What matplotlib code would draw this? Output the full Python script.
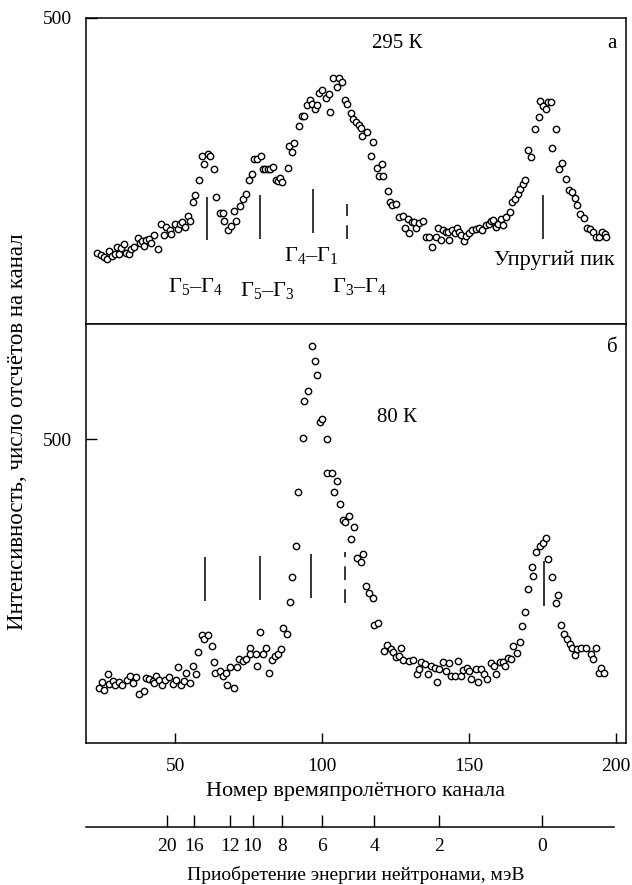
import numpy as np
import matplotlib
matplotlib.use('Agg')
from matplotlib import pyplot as plt

plt.rcParams['font.family'] = ['Liberation Serif', 'DejaVu Serif']
plt.rcParams['mathtext.fontset'] = 'custom'
plt.rcParams['mathtext.rm'] = 'Liberation Serif'
plt.rcParams['mathtext.it'] = 'Liberation Serif:italic'

# 295 K spectrum: channel number / counts per channel
top_channel = [23.5, 24.7, 25.6, 26.7, 27.6, 28.5, 29.4, 30.1, 31.0, 31.5,
               32.4, 33.3, 34.2, 35.1, 35.8, 37.2, 38.1, 38.7, 39.2, 40.1,
               41.0, 41.9, 42.8, 44.0, 45.3, 46.0, 46.9, 48.1, 48.7, 49.9,
               51.0, 51.7, 52.4, 53.3, 54.2, 55.1, 56.0, 56.7, 58.1, 59.0,
               59.9, 61.0, 61.9, 63.1, 64.0, 65.1, 66.2, 66.7, 67.8, 69.0,
               69.9, 70.6, 71.9, 73.1, 74.0, 75.1, 76.0, 76.9, 77.8, 79.2,
               79.7, 80.6, 81.5, 82.4, 83.1, 84.2, 85.1, 85.8, 86.5, 88.3,
               88.7, 89.9, 90.3, 92.2, 93.1, 93.8, 94.7, 95.8, 96.7, 97.6,
               98.1, 99.0, 99.9, 101.2, 102.2, 102.8, 103.7, 104.9, 105.8, 106.9,
               107.8, 108.5, 109.9, 110.6, 111.5, 112.6, 113.3, 113.7, 115.1, 116.5,
               117.2, 118.5, 119.4, 120.4, 120.6,
               122.4, 123.1, 123.8, 125.1, 126.0, 127.6, 128.3, 129.2, 129.7, 130.5,
               131.3, 132.0, 132.9, 134.2, 135.3, 136.3, 137.4, 138.8, 139.4, 140.4,
               141.0, 142.0, 142.9, 143.3, 144.2, 145.1, 145.8, 146.7, 147.4, 148.3,
               149.0, 149.9, 151.0, 152.4, 153.5, 154.4, 155.6, 156.7, 157.4, 158.3,
               159.2, 159.9, 160.8, 161.7, 162.6, 163.8, 164.7, 165.6, 166.5, 167.4,
               168.3, 169.2, 170.1, 171.0, 172.6, 173.8, 174.2, 175.1, 176.3, 177.0,
               177.9, 178.3, 179.7, 180.6, 181.5, 183.1, 184.0, 184.9, 186.0, 186.7,
               187.9, 189.0, 190.1, 191.3, 192.2, 193.3, 194.4, 195.4, 196.3, 196.7]
top_counts = [116, 112, 110, 106, 120, 111, 115, 126, 115, 124,
              130, 116, 115, 122, 126, 140, 133, 135, 127, 138,
              139, 133, 146, 122, 163, 146, 159, 154, 147, 164,
              156, 164, 166, 159, 176, 168, 200, 211, 236, 274,
              261, 278, 274, 253, 207, 182, 181, 169, 154, 160,
              185, 168, 193, 204, 212, 235, 245, 270, 270, 274,
              253, 253, 254, 254, 256, 235, 234, 238, 232, 255,
              291, 281, 296, 323, 340, 340, 358, 366, 360, 352,
              357, 378, 383, 369, 376, 347, 402, 388, 402, 396,
              366, 360, 345, 335, 330, 325, 321, 307, 313, 274,
              297, 255, 242, 261, 242,
              218, 200, 195, 196, 175, 176, 157, 172, 149, 166,
              166, 157, 165, 169, 142, 142, 126, 142, 157, 138,
              153, 150, 151, 137, 154, 148, 157, 150, 145, 136,
              143, 148, 153, 155, 157, 153, 162, 163, 168, 170,
              159, 163, 172, 161, 175, 183, 199, 205, 212, 221,
              229, 236, 284, 273, 319, 338, 364, 356, 352, 363,
              363, 287, 319, 254, 263, 237, 219, 215, 206, 194,
              179, 173, 157, 156, 151, 142, 142, 151, 147, 142]

# 80 K spectrum
bot_channel = [23.9, 24.9, 25.6, 27.2, 27.6, 28.8, 29.4, 30.8, 31.9, 33.5,
               34.7, 35.6, 36.7, 37.8, 39.2, 39.9, 41.0, 42.4, 43.3, 42.9,
               44.4, 45.6, 46.5, 47.8, 49.2, 50.1, 50.8, 51.9, 53.1, 53.7,
               55.1, 56.0, 57.2, 57.8, 59.0, 59.9, 61.2, 62.4, 63.1, 63.5,
               65.1, 66.2, 67.2, 67.6, 68.7, 69.9, 71.0, 71.7, 73.1, 74.2,
               75.3, 75.6, 77.6, 77.8, 79.0, 79.9, 81.0, 81.9, 82.8, 84.0,
               85.1, 86.0, 86.7, 88.1, 89.0, 89.9, 91.2, 91.9, 93.5, 93.7,
               95.1, 96.5, 97.4, 98.1, 99.2, 99.9, 101.5, 101.7, 103.3, 104.0,
               104.9, 106.0, 107.2, 107.8, 109.2, 109.9, 110.8, 111.9, 113.1, 114.0,
               114.9, 116.0, 117.2, 117.6, 119.0,
               121.0, 122.2, 123.3, 124.2, 125.1, 126.0, 127.0, 127.6, 129.4, 131.0,
               132.2, 132.8, 133.8, 134.9, 136.0, 136.9, 138.3, 139.0, 139.9, 141.0,
               142.2, 143.3, 144.0, 145.1, 146.3, 147.2, 148.1, 149.2, 150.1, 150.8,
               152.2, 153.1, 154.0, 155.1, 156.0, 157.4, 158.5, 159.2, 160.6, 161.5,
               162.4, 163.1, 164.2, 165.1, 166.3, 167.2, 168.1, 169.0, 170.1, 171.5,
               171.7, 172.8, 174.0, 175.1, 176.3, 176.9, 178.3, 179.7, 180.3, 181.3,
               182.4, 183.3, 184.2, 185.1, 186.0, 186.7, 188.1, 189.9, 191.5, 192.2,
               193.3, 194.2, 194.9, 196.0]
bot_counts = [91, 100, 88, 114, 97, 102, 96, 101, 95, 103,
              110, 99, 109, 81, 86, 107, 105, 102, 111, 98,
              104, 95, 104, 108, 97, 104, 125, 96, 102, 115,
              99, 126, 114, 150, 178, 171, 178, 160, 134, 115,
              119, 111, 115, 96, 125, 91, 125, 139, 135, 138,
              156, 147, 147, 127, 183, 147, 157, 115, 136, 143,
              147, 155, 189, 180, 232, 273, 324, 414, 503, 564,
              579, 653, 629, 606, 529, 534, 501, 444, 444, 413,
              432, 394, 367, 364, 373, 336, 355, 305, 298, 311,
              259, 247, 238, 194, 198,
              152, 162, 155, 149, 142, 143, 156, 136, 135, 137,
              114, 122, 134, 130, 113, 127, 123, 100, 121, 134,
              118, 131, 111, 111, 135, 111, 120, 124, 118, 105,
              121, 101, 122, 114, 105, 132, 126, 113, 134, 134,
              127, 140, 138, 160, 148, 167, 193, 215, 254, 289,
              275, 314, 324, 330, 337, 303, 274, 231, 244, 195,
              179, 171, 163, 156, 145, 154, 157, 156, 147, 138,
              156, 115, 124, 115]

# transition markers (channel, lower / upper counts)
top_marks = [60.7, 78.7, 96.8, 175.3]
top_marks_lo = [137, 139, 148, 139]
top_marks_hi = [208, 211, 221, 211]
top_dash, top_dash_lo, top_dash_hi = 108.3, 139, 196
bot_marks = [60.0, 78.9, 96.2, 175.4]
bot_marks_lo = [233, 235, 239, 226]
bot_marks_hi = [307, 308, 311, 299]
bot_dash, bot_dash_lo, bot_dash_hi = 107.8, 231, 314

# neutron energy gain scale (meV) and matching channels
energy_labels = ['20', '16', '12', '10', '8', '6', '4', '2', '0']
energy_channel = [47.3, 56.5, 68.8, 76.3, 86.5, 99.8, 117.8, 139.7, 174.8]

XLIM = (19.6, 203.4)
FS = 16

fig = plt.figure(figsize=(6.32, 8.85), dpi=100)
ax_top = fig.add_axes([0.136, 0.6339, 0.8544, 0.3458])
ax_bot = fig.add_axes([0.136, 0.1605, 0.8544, 0.4734])

marker_kw = dict(linestyle='none', marker='o', ms=4.6, mfc='white', mec='black', mew=1.0)

for ax in (ax_top, ax_bot):
    for sp in ax.spines.values():
        sp.set_linewidth(1.1)
    ax.set_xlim(*XLIM)
    ax.set_yticks([500])
    ax.set_yticklabels(['500'])
    ax.tick_params(axis='y', direction='in', length=8, width=1.0, pad=10, labelsize=14)

ax_top.set_ylim(0, 500)
ax_top.plot(top_channel, top_counts, **marker_kw)
ax_top.vlines(top_marks, top_marks_lo, top_marks_hi, color='black', lw=1.1)
ax_top.vlines([top_dash], [top_dash_lo], [top_dash_hi], color='black', lw=1.1,
              linestyles=[(0, (9, 6))])
ax_top.tick_params(axis='x', bottom=False, labelbottom=False)

ax_bot.set_ylim(0, 690)
ax_bot.plot(bot_channel, bot_counts, **marker_kw)
ax_bot.vlines(bot_marks, bot_marks_lo, bot_marks_hi, color='black', lw=1.1)
ax_bot.vlines([bot_dash], [bot_dash_lo], [bot_dash_hi], color='black', lw=1.1,
              linestyles=[(0, (9, 6))])
ax_bot.set_xticks([50, 100, 150, 200])
ax_bot.tick_params(axis='x', direction='in', length=7.5, width=1.0, pad=11, labelsize=14)
ax_bot.set_xlabel('Номер времяпролётного канала', fontsize=FS, labelpad=5)

# labels inside the panels
ax_top.text(0.576, 0.918, '295 К', transform=ax_top.transAxes, ha='center', va='center', fontsize=15)
ax_top.text(0.974, 0.918, 'а', transform=ax_top.transAxes, ha='center', va='center', fontsize=15)
ax_top.text(0.417, 0.225, r'$\Gamma_4$–$\Gamma_1$', transform=ax_top.transAxes, ha='center', va='center', fontsize=FS)
ax_top.text(0.202, 0.121, r'$\Gamma_5$–$\Gamma_4$', transform=ax_top.transAxes, ha='center', va='center', fontsize=FS)
ax_top.text(0.335, 0.111, r'$\Gamma_5$–$\Gamma_3$', transform=ax_top.transAxes, ha='center', va='center', fontsize=FS)
ax_top.text(0.507, 0.121, r'$\Gamma_3$–$\Gamma_4$', transform=ax_top.transAxes, ha='center', va='center', fontsize=FS)
ax_top.text(0.867, 0.209, 'Упругий пик', transform=ax_top.transAxes, ha='center', va='center', fontsize=FS)

ax_bot.text(0.974, 0.943, 'б', transform=ax_bot.transAxes, ha='center', va='center', fontsize=15)
ax_bot.text(0.576, 0.778, '80 К', transform=ax_bot.transAxes, ha='center', va='center', fontsize=15)

fig.text(0.027, 0.512, 'Интенсивность, число отсчётов на канал', rotation=90,
         ha='center', va='center', fontsize=16.5)

# energy scale drawn as a separate bare axis below the channel axis
ax_e = fig.add_axes([0.136, 0.0655, 0.8544, 0.0001])
ax_e.set_xlim(*XLIM)
ax_e.patch.set_visible(False)
for side in ('top', 'left', 'right'):
    ax_e.spines[side].set_visible(False)
ax_e.spines['bottom'].set_linewidth(1.1)
ax_e.spines['bottom'].set_bounds(XLIM[0], 199.3)
ax_e.set_yticks([])
ax_e.set_xticks(energy_channel)
ax_e.set_xticklabels(energy_labels)
ax_e.tick_params(axis='x', direction='in', length=8.5, width=1.0, pad=8, labelsize=14)
ax_e.set_xlabel('Приобретение энергии нейтронами, мэВ', fontsize=14, labelpad=8)

fig.savefig('out.png', dpi=100)
